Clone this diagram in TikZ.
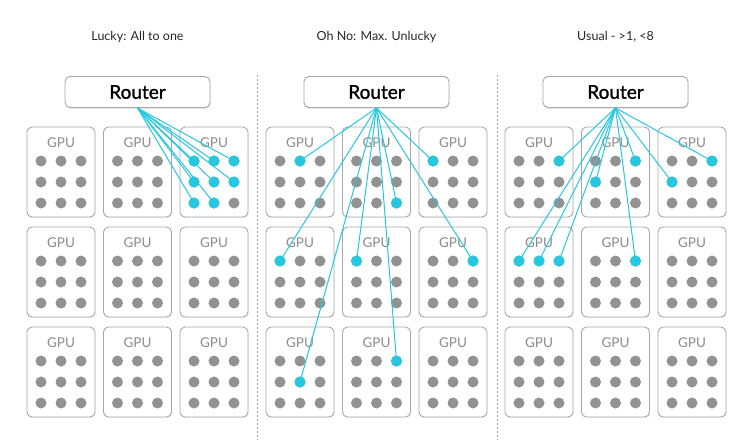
\documentclass[tikz,border=0pt]{standalone}
\usepackage{fontspec}
\setmainfont{Lato}
\newfontface\routerfont{Lato}[FakeBold=1.2]
\usepackage{tikz}
\usetikzlibrary{positioning,shadows}
\definecolor{dotgray}{RGB}{146,146,146}
\definecolor{boxgray}{RGB}{168,168,168}
\definecolor{hotcyan}{RGB}{38,200,224}
\definecolor{labelgray}{RGB}{140,140,140}

\tikzset{
  gpubox/.style={draw=boxgray, line width=0.9pt, rounded corners=5pt, fill=white,
    minimum width=68pt, minimum height=90pt, inner sep=0pt,
    drop shadow={shadow xshift=0.6pt, shadow yshift=-1.2pt, opacity=0.12}},
  gpulabel/.style={text=labelgray, font=\fontsize{13.5}{13.5}\selectfont, inner sep=0pt},
  gpudot/.style={circle, fill=dotgray, minimum size=11pt, inner sep=0pt},
  router/.style={draw=boxgray, line width=0.9pt, rounded corners=5pt, fill=white,
    minimum width=145pt, minimum height=31pt, inner sep=0pt,
    font=\routerfont\fontsize{19}{19}\selectfont,
    drop shadow={shadow xshift=0.6pt, shadow yshift=-1.5pt, opacity=0.18}},
  heading/.style={font=\fontsize{12.5}{12.5}\selectfont, text=black!85, inner sep=0pt},
  link/.style={hotcyan, line width=1pt},
  divider/.style={boxgray, line width=0.8pt, dash pattern=on 2pt off 2pt}
}

\begin{document}
\begin{tikzpicture}[x=1pt,y=-1pt]
\useasboundingbox (0,0) rectangle (738,440);

% panel titles
\node[heading] (t0) at (137.5,37) {Lucky: All to one};
\node[heading] (t1) at (376.5,37) {Oh No: Max. Unlucky};
\node[heading] (t2) at (615.5,37) {Usual - >1, <8};

% dividers
\draw[divider] (257,75) -- (257,440);
\draw[divider] (497,75) -- (497,440);

% routers
\foreach \p in {0,1,2}
  \node[router] (r\p) at ({137.5+239*\p},92) {Router};

% gpu grid
\foreach \p in {0,1,2}{
  \foreach \r in {0,1,2}{
    \foreach \c in {0,1,2}{
      \node[gpubox] (b\p\r\c) at ({61+76.5*\c+239*\p},{172+100*\r}) {};
      \node[gpulabel] (b\p\r\c-l) at ({61+76.5*\c+239*\p},{143+100*\r}) {GPU};
      \foreach \i in {0,1,2}
        \foreach \j in {0,1,2}
          \node[gpudot] (b\p\r\c-\i\j) at ({41+20*\j+76.5*\c+239*\p},{161+21*\i+100*\r}) {};
    }
  }
}

% routed tokens
\foreach \d in {b002-00,b002-01,b002-02,b002-10,b002-11,b002-12,b002-20,b002-21}{
  \draw[link] (r0.south) -- (\d.center);
  \fill[hotcyan] (\d.center) circle[radius=5.5pt];
}
\foreach \d in {b100-01,b101-22,b102-00,b110-00,b111-00,b112-02,b120-11,b121-02}{
  \draw[link] (r1.south) -- (\d.center);
  \fill[hotcyan] (\d.center) circle[radius=5.5pt];
}
\foreach \d in {b200-02,b201-02,b201-10,b202-02,b202-10,b210-00,b210-01,b210-02,b211-02}{
  \draw[link] (r2.south) -- (\d.center);
  \fill[hotcyan] (\d.center) circle[radius=5.5pt];
}
\end{tikzpicture}
\end{document}
